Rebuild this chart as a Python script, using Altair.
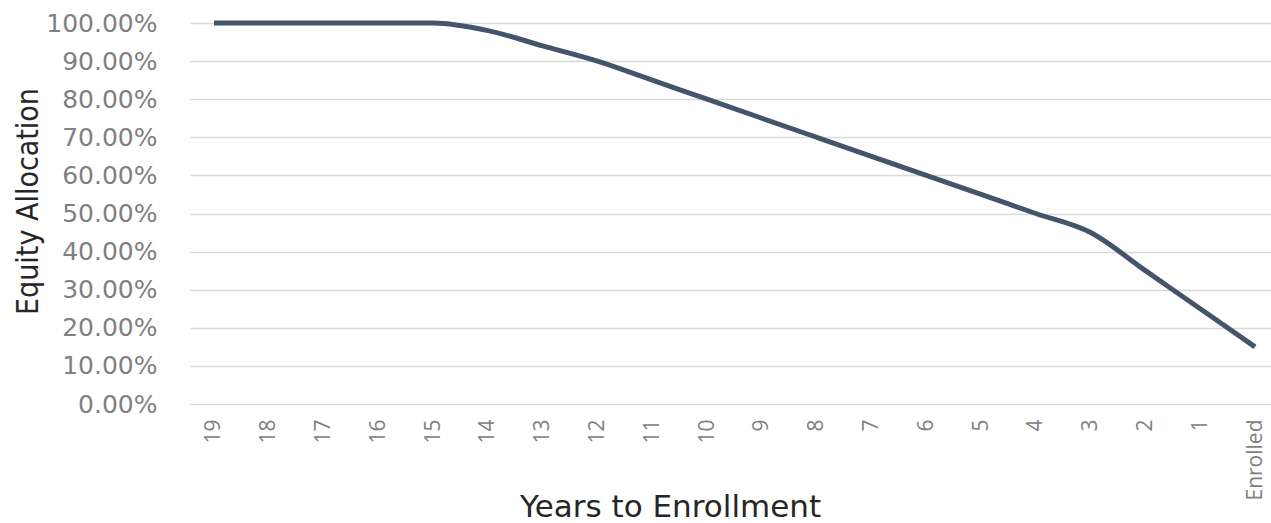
import altair as alt
import pandas as pd

years = ["19", "18", "17", "16", "15", "14", "13", "12", "11", "10",
         "9", "8", "7", "6", "5", "4", "3", "2", "1", "Enrolled"]
equity = [1.00, 1.00, 1.00, 1.00, 1.00, 0.98, 0.94, 0.90, 0.85, 0.80,
          0.75, 0.70, 0.65, 0.60, 0.55, 0.50, 0.45, 0.35, 0.25, 0.15]

df = pd.DataFrame({"years": years, "equity": equity})

chart = alt.Chart(df).mark_line(
    color="#44546A", strokeWidth=5, interpolate="monotone"
).encode(
    x=alt.X("years:N", sort=years,
            scale=alt.Scale(type="point", padding=0.365, align=0.6),
            axis=alt.Axis(title="Years to Enrollment", labelAngle=270, labelAlign="right",
                          labelBaseline="middle", labelPadding=15, labelFontSize=21,
                          labelColor="#808080", labelFont="Open Sans", domain=False,
                          ticks=False, grid=False, titleFont="DejaVu Sans", titleFontSize=31,
                          titleFontWeight="normal", titleColor="#262626",
                          titleX=480, titleY=112, titleBaseline="alphabetic")),
    y=alt.Y("equity:Q", scale=alt.Scale(domain=[0, 1]),
            axis=alt.Axis(title="Equity  Allocation", format=".2%", values=[i / 10 for i in range(11)],
                          labelFontSize=25, labelColor="#808080", labelFont="DejaVu Sans",
                          labelPadding=33, domain=False, ticks=False,
                          gridColor="#d9d9d9", gridWidth=1.5,
                          titleFont="DejaVu Sans Condensed", titleFontSize=30,
                          titleFontWeight="normal", titleColor="#262626",
                          titleX=-147, titleY=178, titleAngle=270, titleBaseline="bottom"))
).properties(
    width=1081, height=381,
    autosize=alt.AutoSizeParams(type="none"),
    padding={"left": 190, "top": 23, "right": 0, "bottom": 119}
).configure_view(stroke=None)

chart.save("out.html", embed_options={"renderer": "svg", "actions": False})
